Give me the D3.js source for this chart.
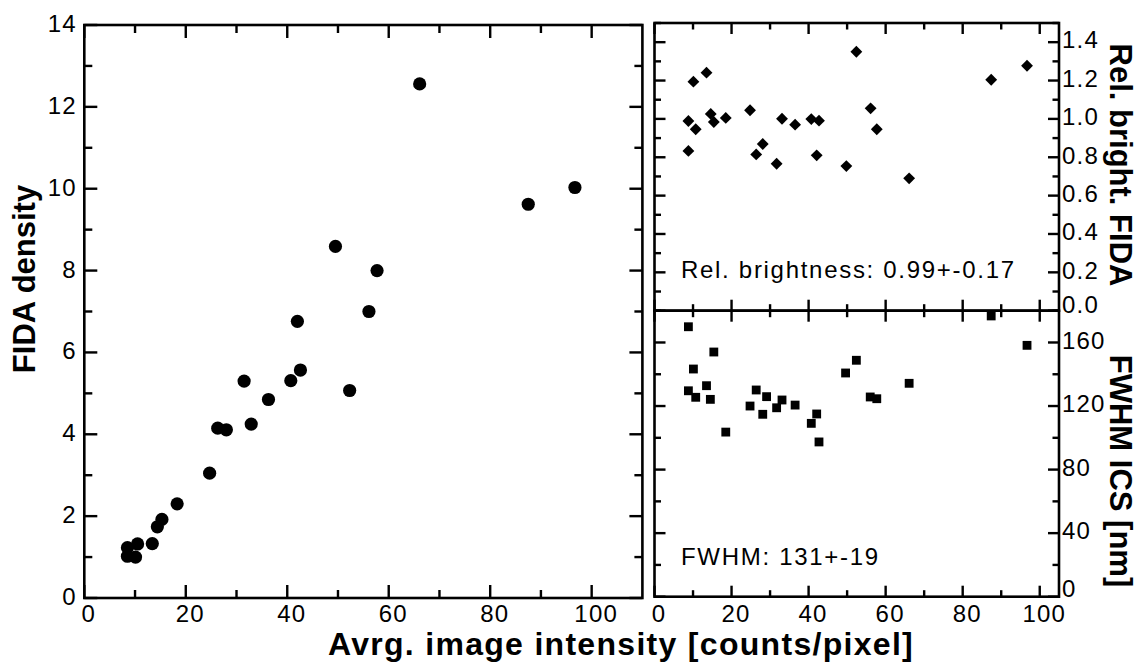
<script src="https://d3js.org/d3.v7.min.js"></script>
<body style="margin:0;background:#fff">
<script>
// values

// left panel: FIDA density vs average image intensity
var densX = [8.5, 8.5, 10.1, 10.5, 13.4, 14.4, 15.3, 18.3, 24.7, 26.3, 28.0, 31.5, 32.9, 36.3, 40.7, 42.0, 42.6, 49.5, 52.3, 56.1, 57.7, 66.1, 87.5, 96.7];
var densY = [1.23, 1.02, 1.00, 1.32, 1.33, 1.74, 1.92, 2.30, 3.05, 4.15, 4.11, 5.30, 4.25, 4.85, 5.31, 6.76, 5.57, 8.59, 5.07, 7.00, 8.00, 12.56, 9.62, 10.03];

// top right: relative brightness
var brightX = [8.8, 8.8, 10.1, 10.7, 13.5, 14.6, 15.4, 18.5, 24.8, 26.4, 28.1, 31.7, 33.1, 36.5, 40.7, 42.1, 42.7, 49.8, 52.4, 56.1, 57.7, 66.1, 87.4, 96.7];
var brightY = [0.833, 0.989, 1.194, 0.946, 1.241, 1.026, 0.984, 1.005, 1.045, 0.815, 0.869, 0.766, 1.001, 0.970, 0.999, 0.810, 0.991, 0.754, 1.350, 1.055, 0.946, 0.690, 1.204, 1.277];

// bottom right: FWHM ICS
var fwhmX = [8.8, 8.8, 10.1, 10.7, 13.5, 14.5, 15.4, 18.5, 24.8, 26.4, 28.1, 29.1, 31.7, 33.1, 36.5, 40.7, 42.1, 42.7, 49.6, 52.4, 56.0, 57.7, 66.1, 87.4, 96.7];
var fwhmY = [169.9, 129.6, 143.3, 125.5, 132.8, 124.2, 154.0, 103.6, 120.0, 130.1, 114.8, 125.9, 118.9, 123.8, 120.6, 109.1, 115.0, 97.4, 140.8, 148.8, 125.7, 124.6, 134.3, 176.7, 158.2];

// ticks
var xMajor = [0, 20, 40, 60, 80, 100];
var xMinor = [10, 30, 50, 70, 90];
var densMajor = [0, 2, 4, 6, 8, 10, 12, 14];
var densMinor = [1, 3, 5, 7, 9, 11, 13];
var brightMajor = [0, 0.2, 0.4, 0.6, 0.8, 1.0, 1.2, 1.4];
var brightMinor = [0.1, 0.3, 0.5, 0.7, 0.9, 1.1, 1.3, 1.5];
var fwhmMajor = [0, 40, 80, 120, 160];
var fwhmMinor = [20, 60, 100, 140, 180];

var svg = d3.select("body").append("svg")
    .attr("width", 1140)
    .attr("height", 671)
    .style("font-family", "'Liberation Sans', Arial, Helvetica, sans-serif");

// scales
var xL = d3.scaleLinear().domain([0, 110]).range([84.3, 642.4]);
var yL = d3.scaleLinear().domain([0, 14]).range([598, 25]);
var xR = d3.scaleLinear().domain([0, 105]).range([654.5, 1059]);
var yT = d3.scaleLinear().domain([0, 1.5]).range([310.7, 23]);
var yB = d3.scaleLinear().domain([0, 180]).range([596.7, 310.7]);

var tickFont = "24px";
var tickSpacing = "1.2px";
var tickW = 2.4;

// inward tick marks on one side of a frame
function tickMarks(vals, scale, side, at, len) {
  var horiz = side === "top" || side === "bottom";
  var inward = side === "top" || side === "left";
  svg.append("g").selectAll("rect")
      .data(vals)
    .enter().append("rect")
      .attr("x", function(v) { return horiz ? scale(v) - tickW / 2 : (inward ? at : at - len); })
      .attr("y", function(v) { return horiz ? (inward ? at : at - len) : scale(v) - tickW / 2; })
      .attr("width", horiz ? tickW : len)
      .attr("height", horiz ? len : tickW)
      .attr("fill", "#000");
}

// tick labels through d3 axes, ticks themselves hidden
function labels(axisFn, scale, vals, pos, fmt) {
  var g = svg.append("g").attr("transform", pos)
      .call(axisFn(scale).tickValues(vals).tickSize(0).tickFormat(fmt));
  g.select(".domain").remove();
  g.selectAll(".tick line").remove();
  g.selectAll("text").attr("fill", "#000")
      .style("font-size", tickFont).style("letter-spacing", tickSpacing);
  return g;
}

function panel(sx, sy, xMaj, xMin, yMaj, yMin, majLen, minLen) {
  var left = sx.range()[0], right = sx.range()[1];
  var bottom = sy.range()[0], top = sy.range()[1];
  svg.append("rect")
      .attr("x", left).attr("y", top)
      .attr("width", right - left).attr("height", bottom - top)
      .attr("fill", "none").attr("stroke", "#000").attr("stroke-width", 2.6);
  tickMarks(xMaj, sx, "top", top, majLen);
  tickMarks(xMin, sx, "top", top, minLen);
  tickMarks(xMaj, sx, "bottom", bottom, majLen);
  tickMarks(xMin, sx, "bottom", bottom, minLen);
  tickMarks(yMaj, sy, "left", left, majLen);
  tickMarks(yMin, sy, "left", left, minLen);
  tickMarks(yMaj, sy, "right", right, majLen);
  tickMarks(yMin, sy, "right", right, minLen);
}

// left panel
panel(xL, yL, xMajor, xMinor, densMajor, densMinor, 13, 8);
labels(d3.axisBottom, xL, xMajor, "translate(0,598)", d3.format("d"))
    .selectAll("text").attr("dx", 4).attr("y", 7);
labels(d3.axisLeft, yL, densMajor, "translate(84.3,0)", d3.format("d"))
    .selectAll("text").attr("x", -7.5).attr("dy", "0.27em");

// top right panel
panel(xR, yT, xMajor, xMinor, brightMajor, brightMinor, 11, 6.5);
labels(d3.axisRight, yT, brightMajor, "translate(1059,0)", d3.format(".1f"))
    .selectAll("text").attr("x", 3)
    .attr("dy", function(d) { return d === 0 ? "0.08em" : "0.24em"; });

// bottom right panel
panel(xR, yB, xMajor, xMinor, fwhmMajor, fwhmMinor, 11, 6.5);
labels(d3.axisBottom, xR, xMajor, "translate(0,596.7)", d3.format("d"))
    .selectAll("text").attr("dx", 4).attr("y", 8);
labels(d3.axisRight, yB, fwhmMajor, "translate(1059,0)", d3.format("d"))
    .selectAll("text").attr("x", 3)
    .attr("dy", function(d) { return d === 0 ? "-0.02em" : "0.24em"; });

// points
svg.append("g").selectAll("circle")
    .data(densX)
  .enter().append("circle")
    .attr("cx", function(d) { return xL(d); })
    .attr("cy", function(d, i) { return yL(densY[i]); })
    .attr("r", 6.6)
    .attr("fill", "#000");

var diamond = d3.symbol().type(d3.symbolSquare).size(70);
svg.append("g").selectAll("path")
    .data(brightX)
  .enter().append("path")
    .attr("d", diamond)
    .attr("transform", function(d, i) { return "translate(" + xR(d) + "," + yT(brightY[i]) + ") rotate(45)"; })
    .attr("fill", "#000");

var square = d3.symbol().type(d3.symbolSquare).size(78);
svg.append("g").selectAll("path")
    .data(fwhmX)
  .enter().append("path")
    .attr("d", square)
    .attr("transform", function(d, i) { return "translate(" + xR(d) + "," + yB(fwhmY[i]) + ")"; })
    .attr("fill", "#000");

// annotations
svg.append("text").attr("x", 681).attr("y", 278)
    .style("font-size", "24px").style("letter-spacing", "1.7px")
    .text("Rel. brightness: 0.99+-0.17");
svg.append("text").attr("x", 681).attr("y", 565)
    .style("font-size", "24px").style("letter-spacing", "1.7px")
    .text("FWHM: 131+-19");

// axis titles
svg.append("text")
    .attr("transform", "translate(35,279) rotate(-90)")
    .attr("text-anchor", "middle")
    .style("font-size", "31px").style("font-weight", "bold")
    .text("FIDA density");

svg.append("text")
    .attr("x", 621).attr("y", 655)
    .attr("text-anchor", "middle")
    .style("font-size", "32px").style("font-weight", "bold")
    .style("letter-spacing", "1.3px")
    .text("Avrg. image intensity [counts/pixel]");

svg.append("text")
    .attr("transform", "translate(1110,165) rotate(90)")
    .attr("text-anchor", "middle")
    .style("font-size", "31px").style("font-weight", "bold")
    .text("Rel. bright. FIDA");

svg.append("text")
    .attr("transform", "translate(1110,471) rotate(90)")
    .attr("text-anchor", "middle")
    .style("font-size", "31px").style("font-weight", "bold")
    .text("FWHM ICS [nm]");
</script>
</body>
